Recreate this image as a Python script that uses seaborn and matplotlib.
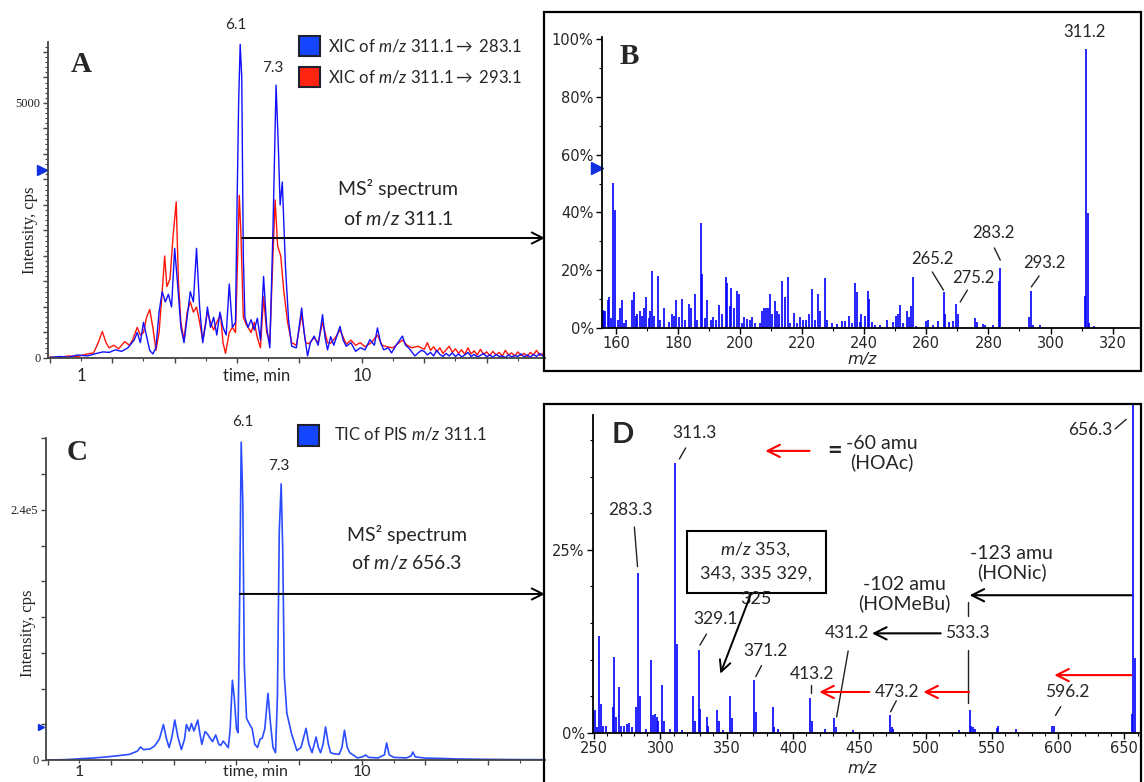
import matplotlib.pyplot as plt
import matplotlib.patches as mpatches
from matplotlib.ticker import MultipleLocator, NullFormatter, FuncFormatter
import seaborn as sns

# ---- data ----
# A: XIC traces (time in min, intensity in cps)
xic283_t = [0.0, 0.3, 0.6, 0.9, 1.2, 1.5, 1.7, 1.9, 2.1, 2.3, 2.5, 2.7, 2.8, 2.9,
            3.0, 3.1, 3.2, 3.3, 3.4, 3.5, 3.6, 3.7, 3.8, 3.9, 4.0, 4.1, 4.2, 4.3, 4.4, 4.5, 4.6, 4.7, 4.8, 4.9,
            5.0, 5.05, 5.15, 5.25, 5.35, 5.45, 5.55, 5.65, 5.75, 5.85, 5.95,
            6.0, 6.05, 6.1, 6.15, 6.2, 6.25, 6.35, 6.45, 6.55, 6.65, 6.75, 6.85, 6.95,
            7.05, 7.15, 7.25, 7.32, 7.38, 7.45, 7.55, 7.65, 7.75, 7.9,
            8.07, 8.15, 8.26, 8.35, 8.47, 8.6, 8.74, 8.82, 8.9,
            9.0, 9.1, 9.3, 9.4, 9.5, 9.65, 9.8, 9.95,
            10.1, 10.26, 10.4, 10.5, 10.6, 10.7, 10.85, 10.95,
            11.1, 11.3, 11.4, 11.5, 11.6, 11.7, 11.9,
            12.0, 12.1, 12.2, 12.3, 12.4, 12.5, 12.6, 12.7, 12.8, 12.9,
            13.0, 13.1, 13.2, 13.3, 13.4, 13.5, 13.6, 13.7, 13.8, 13.9,
            14.0, 14.1, 14.2, 14.3, 14.4, 14.5, 14.6, 14.7, 14.8, 14.9,
            15.0, 15.1, 15.2, 15.3, 15.4, 15.5, 15.6, 15.7, 15.8]
xic283_i = [10, 30, 15, 60, 40, 90, 120, 110, 160, 130, 200, 350, 500, 300,
            700, 420, 150, 80, 200, 900, 1300, 1100, 1250, 1000, 2150, 1400, 600, 300, 800, 1300, 1100, 2150, 1000, 300,
            700, 1000, 600, 800, 450, 900, 600, 450, 1450, 600, 700,
            3000, 5000, 6150, 5500, 2000, 800, 600, 750, 550, 780, 350, 1600, 600,
            200, 2500, 5350, 4200, 3000, 3450, 1800, 750, 230, 200,
            980, 500, 40, 300, 430, 250, 850, 400, 160,
            420, 250, 620, 350, 230, 300, 130, 200,
            160, 360, 250, 590, 300, 160, 200, 100,
            250, 430, 250, 200, 120, 40, 150,
            130, 60, 110, 40, 150, 70, 30, 90, 40, 100,
            30, 80, 20, 60, 110, 30, 70, 20, 50, 90,
            25, 60, 15, 70, 30, 40, 10, 60, 20, 50,
            30, 80, 20, 60, 15, 70, 30, 90, 40]

xic293_t = [0.0, 0.3, 0.6, 0.9, 1.2, 1.4, 1.55, 1.68, 1.8, 1.9,
            2.05, 2.2, 2.4, 2.55, 2.65, 2.8, 2.9,
            3.0, 3.1, 3.2, 3.3, 3.4, 3.5, 3.6, 3.68, 3.75, 3.85, 3.95,
            4.05, 4.12, 4.2, 4.3, 4.4, 4.5, 4.6, 4.7, 4.8, 4.9,
            5.05, 5.15, 5.25, 5.35, 5.47, 5.55, 5.63, 5.75, 5.85, 5.95,
            6.02, 6.07, 6.12, 6.2, 6.3, 6.45, 6.55, 6.65, 6.75, 6.85, 6.95,
            7.05, 7.15, 7.22, 7.3, 7.4, 7.5, 7.62, 7.75, 7.9,
            8.07, 8.2, 8.3, 8.47, 8.6, 8.74, 8.9,
            9.0, 9.15, 9.3, 9.5, 9.65, 9.8, 9.95,
            10.1, 10.3, 10.5, 10.65, 10.8,
            11.0, 11.15, 11.3, 11.45, 11.6, 11.8,
            12.0, 12.1, 12.2, 12.3, 12.4, 12.5, 12.6, 12.7, 12.8, 12.9,
            13.0, 13.1, 13.2, 13.3, 13.4, 13.5, 13.6, 13.7, 13.8, 13.9,
            14.0, 14.1, 14.2, 14.3, 14.4, 14.5, 14.6, 14.7, 14.8, 14.9,
            15.0, 15.1, 15.2, 15.3, 15.4, 15.5, 15.6, 15.7, 15.8]
xic293_i = [20, 10, 40, 30, 80, 100, 300, 520, 300, 200,
            250, 180, 320, 250, 350, 600, 450,
            500, 800, 950, 600, 150, 500, 1300, 2000, 1400, 1550, 2400,
            3060, 1500, 700, 350, 900, 1100, 900, 1000, 700, 350,
            900, 700, 550, 700, 850, 300, 90, 500, 600, 500,
            2000, 3190, 2500, 800, 650, 500, 700, 400, 200, 1200, 500,
            300, 2000, 3100, 2200, 2000, 1300, 700, 300, 250,
            850, 300, 280, 400, 300, 700, 300,
            290, 400, 550, 270, 350, 250, 300,
            220, 300, 450, 250, 220,
            200, 280, 350, 250, 200, 230,
            170, 300, 150, 220, 120, 200, 90, 160, 230, 110,
            180, 90, 160, 70, 200, 80, 140, 60, 170, 70,
            120, 50, 130, 60, 110, 40, 150, 60, 100, 40,
            120, 50, 90, 30, 110, 60, 150, 50, 90]

# C: TIC of precursor ion scan
tic_t = [-0.05, 0.5, 0.8, 1.2, 1.5, 1.85, 2.2, 2.6, 2.85, 2.95, 3.05, 3.25, 3.4, 3.55, 3.68, 3.78, 3.86, 3.95,
         4.04, 4.14, 4.25, 4.35, 4.41, 4.5, 4.57, 4.65, 4.77, 4.84, 4.9,
         5.0, 5.08, 5.15, 5.24, 5.34, 5.44, 5.5, 5.58, 5.66, 5.74, 5.8, 5.87, 5.93,
         6.0, 6.05, 6.1, 6.15, 6.2, 6.25, 6.32, 6.42, 6.5, 6.58, 6.67, 6.75, 6.82, 6.9,
         7.0, 7.08, 7.16, 7.24, 7.3, 7.36, 7.42, 7.47, 7.52, 7.6, 7.75, 7.92,
         8.05, 8.21, 8.3, 8.4, 8.53, 8.6, 8.67, 8.75, 8.83, 8.92, 8.99,
         9.1, 9.26, 9.35, 9.43, 9.52, 9.6, 9.84,
         10.0, 10.1, 10.2, 10.5, 10.7, 10.77, 10.85,
         11.0, 11.4, 11.55, 11.6, 11.68,
         12.0, 12.5, 13.0, 13.5, 14.0, 14.5, 15.0, 15.8]
tic_i = [0, 300, 700, 1500, 2000, 2900, 4000, 5400, 8500, 12500, 10000, 10500, 13500, 20000, 34000, 20000, 12000, 22000,
         38400, 22000, 10000, 20000, 34000, 27800, 35000, 27800, 38400, 25000, 15000,
         27200, 25000, 21400, 17600, 24000, 15000, 14000, 18200, 15000, 11800, 30000, 76500, 60000,
         30000, 26200, 150000, 305000, 250000, 90000, 40000, 34000, 30000, 15000, 12000, 20000, 21000, 30000,
         64000, 35000, 12000, 7000, 60000, 220000, 265000, 200000, 80000, 45000, 25000, 9000,
         12000, 30400, 15000, 7000, 22000, 12000, 7000, 15000, 31700, 15000, 7000,
         6000, 5400, 12000, 28500, 12000, 7000, 2000,
         3000, 4800, 2500, 2000, 5000, 16300, 5000,
         2500, 2000, 4000, 7700, 3000,
         1800, 1500, 1000, 800, 600, 500, 400, 300]

# B: MS2 spectrum of m/z 311.1 (m/z, relative intensity %)
ms311_mz = [155.2, 155.7, 156.2, 156.6, 157.3, 157.9, 158.4, 159.1, 159.6, 160.5, 161.3, 161.8, 162.5, 163.2,
            165.1, 165.7, 166.4, 166.9, 167.7, 168.3, 169.1, 169.6, 170.5, 171.0, 171.6, 172.3, 173.4, 174.1,
            175.5, 177.1, 178.0, 178.7, 179.5, 180.3, 181.4, 182.3, 183.5, 184.2, 185.5, 186.2, 187.3, 187.8,
            188.7, 189.4, 190.5, 191.2, 192.3, 193.2, 194.0, 195.3, 195.8, 196.6, 197.2, 198.0, 199.0, 199.6,
            200.6, 201.4, 202.2, 203.1, 203.9, 204.9, 206.5, 207.1, 207.6, 208.3, 209.0, 209.5, 210.3, 211.3,
            211.9, 212.6, 213.5, 214.5, 215.3, 216.1, 217.2, 218.3, 219.3, 220.4, 221.2, 222.2, 223.3, 224.2,
            225.2, 225.8, 227.2, 227.9, 229.5, 231.1, 232.7, 233.8, 235.1, 235.9, 237.0, 237.5, 238.6, 239.1,
            240.2, 241.1, 241.6, 242.4, 243.3, 245.2, 247.4, 249.2, 250.2, 250.8, 251.5, 252.4, 253.7, 254.3,
            255.1, 255.8, 256.7, 259.9, 260.6, 262.0, 263.6, 265.6, 266.1, 267.4, 268.5, 269.5, 270.1, 275.7,
            276.3, 278.4, 279.0, 281.5, 283.3, 283.8, 293.1, 293.8, 294.4, 296.7, 311.0, 311.5, 312.0, 312.4,
            314.0]
ms311_pct = [9.8, 6.3, 6.0, 5.8, 9.8, 10.7, 3.5, 50.2, 40.9, 2.9, 6.9, 9.6, 1.7, 2.7,
             9.6, 12.3, 4.0, 5.0, 5.8, 4.0, 6.9, 10.7, 3.5, 5.8, 19.8, 4.0, 18.1, 2.9,
             6.9, 2.0, 5.0, 4.0, 9.6, 3.8, 10.0, 2.9, 8.4, 6.9, 11.8, 2.9, 36.3, 18.7,
             3.5, 9.6, 2.9, 3.8, 2.9, 8.1, 5.0, 17.6, 15.6, 7.5, 13.8, 6.9, 12.9, 11.9,
             1.7, 3.8, 3.1, 2.9, 3.8, 1.7, 1.7, 5.8, 6.9, 6.9, 6.9, 11.8, 5.0, 9.2,
             5.8, 5.0, 16.1, 10.7, 17.6, 1.7, 5.2, 1.7, 3.8, 2.9, 2.9, 5.0, 13.5, 2.9,
             11.9, 5.8, 17.3, 2.9, 1.7, 1.5, 2.3, 2.3, 4.3, 1.7, 15.6, 12.3, 2.0, 5.0,
             4.0, 12.9, 10.0, 2.0, 1.0, 1.2, 2.7, 2.0, 4.0, 5.0, 8.1, 1.7, 5.8, 3.8,
             7.5, 17.6, 0.6, 2.3, 2.7, 1.2, 2.3, 12.3, 5.0, 2.0, 2.3, 8.4, 5.0, 3.5,
             2.0, 1.5, 1.2, 1.2, 16.1, 20.8, 3.8, 12.7, 1.2, 1.2, 11.2, 96.5, 39.8, 1.7,
             0.6]

# D: MS2 spectrum of m/z 656.3
ms656_mz = [249.4, 250.6, 251.9, 253.9, 255.1, 256.9, 258.9, 263.9, 265.2, 266.5, 268.7, 270.0, 272.5, 274.5,
            276.5, 278.3, 281.3, 283.3, 284.6, 288.8, 292.6, 294.1, 295.9, 297.1, 298.4, 301.4, 302.7, 307.2,
            311.3, 312.2, 316.0, 324.8, 326.1, 329.0, 329.8, 334.9, 336.1, 342.9, 344.4, 346.9, 352.5, 353.7,
            370.8, 371.8, 384.6, 385.7, 388.9, 404.0, 405.3, 413.0, 414.1, 424.1, 431.2, 432.4, 445.6, 467.0,
            473.2, 474.5, 475.7, 493.3, 509.7, 525.5, 533.2, 534.3, 536.1, 537.4, 553.7, 555.0, 568.0, 595.7,
            596.9, 613.5, 655.5, 656.3, 657.8]
ms656_pct = [3.3, 3.2, 0.8, 13.3, 3.9, 0.9, 0.9, 3.6, 10.4, 2.2, 6.3, 1.0, 1.0, 1.2,
             1.3, 0.8, 3.5, 21.8, 5.1, 0.6, 10.0, 2.4, 2.6, 2.2, 1.7, 6.5, 1.7, 0.6,
             36.8, 12.2, 0.4, 5.0, 1.7, 11.3, 3.3, 2.2, 1.0, 3.2, 1.6, 0.4, 5.0, 2.0,
             7.2, 2.9, 3.5, 0.8, 0.6, 0.2, 0.2, 4.8, 1.7, 0.5, 2.0, 0.8, 0.4, 0.2,
             2.4, 0.8, 0.5, 0.2, 0.2, 0.4, 3.2, 1.0, 0.8, 0.6, 0.7, 1.0, 0.5, 1.0,
             1.0, 0.2, 2.6, 100.0, 10.2]

# ---- style ----
sns.set_style("ticks")
plt.rcParams['font.family'] = ['Lato', 'DejaVu Sans']
plt.rcParams['mathtext.fontset'] = 'custom'
plt.rcParams['mathtext.rm'] = 'Lato'
plt.rcParams['mathtext.it'] = 'Lato:italic'

W, H = 1144, 782
fig = plt.figure(figsize=(W / 100, H / 100), dpi=100)


def rect(l, t, r, b):
    return [l / W, 1 - b / H, (r - l) / W, (b - t) / H]


def fp(x, y):
    return (x / W, 1 - y / H)


def ftext(x, y, s, **kw):
    kw.setdefault('ha', 'center')
    kw.setdefault('va', 'center')
    fig.text(x / W, 1 - y / H, s, **kw)


SERIF = 'Liberation Serif'


def chrom_style(ax, ystep, yminor, labels):
    sns.despine(ax=ax)
    for s in ['left', 'bottom']:
        ax.spines[s].set_color('#444444')
        ax.spines[s].set_linewidth(1.3)
    ax.xaxis.set_major_locator(MultipleLocator(2))
    ax.xaxis.set_minor_locator(MultipleLocator(1))
    ax.xaxis.set_major_formatter(NullFormatter())
    ax.yaxis.set_major_locator(MultipleLocator(ystep))
    if yminor:
        ax.yaxis.set_minor_locator(MultipleLocator(yminor))
    ax.yaxis.set_major_formatter(FuncFormatter(
        lambda v, p: next((lab for val, lab in labels if abs(v - val) < ystep * 0.1), '')))
    ax.tick_params(axis='both', which='major', length=3.5, width=1, color='#444444', direction='out')
    ax.tick_params(axis='both', which='minor', length=2, width=0.8, color='#444444', direction='out')
    ax.tick_params(axis='y', labelsize=9, pad=2, labelcolor='#222222')
    for lab in ax.get_yticklabels():
        lab.set_family(SERIF)
    ax.set_xlabel('')
    ax.set_ylabel('')


def spec_style(ax, xmaj, ymaj, yminor, ylabels):
    sns.despine(ax=ax)
    for s in ['left', 'bottom']:
        ax.spines[s].set_color('black')
        ax.spines[s].set_linewidth(1.3)
    ax.xaxis.set_major_locator(MultipleLocator(xmaj))
    ax.xaxis.set_minor_locator(MultipleLocator(10))
    ax.yaxis.set_major_locator(MultipleLocator(ymaj))
    ax.yaxis.set_minor_locator(MultipleLocator(yminor))
    ax.yaxis.set_major_formatter(FuncFormatter(
        lambda v, p: f'{v:g}%' if any(abs(v - y) < 0.01 for y in ylabels) else ''))
    ax.tick_params(axis='both', which='major', length=4, width=1, color='black', direction='out')
    ax.tick_params(axis='both', which='minor', length=2.2, width=0.8, color='black', direction='out')
    ax.tick_params(axis='both', labelsize=10.5, pad=2)
    for lab in ax.get_xticklabels() + ax.get_yticklabels():
        lab.set_family('DejaVu Sans')


# ================= A =================
axA = fig.add_axes(rect(48, 42, 545, 358))
sns.lineplot(x=xic293_t, y=xic293_i, ax=axA, color='#ff1408', lw=1.0, estimator=None, sort=False)
sns.lineplot(x=xic283_t, y=xic283_i, ax=axA, color='#1010ff', lw=1.0, estimator=None, sort=False)
axA.set_xlim(-0.06, 15.87)
axA.set_ylim(0, 6196)
chrom_style(axA, 500, 100, [(0, '0'), (5000, '5000')])
axA.plot([-0.012], [3686], marker='>', ms=7, color='#1030e0', transform=axA.get_yaxis_transform(), clip_on=False)
axA.text(5.97, 6529, '6.1', ha='center', va='center', fontsize=11)
axA.text(7.15, 5686, '7.3', ha='center', va='center', fontsize=11)
axA.annotate('', xy=fp(545, 238), xycoords='figure fraction', xytext=(6.16, 2353), textcoords='data',
             arrowprops=dict(arrowstyle='->', color='black', lw=1.4, shrinkA=0, shrinkB=0, mutation_scale=20))

ftext(81, 65, 'A', fontsize=21, fontweight='bold', family=SERIF)
ftext(30, 230, 'Intensity, cps', rotation=90, fontsize=12, family=SERIF, color='#222222')
ftext(81, 376, '1', fontsize=12)
ftext(257, 376, 'time, min', fontsize=12)
ftext(362, 376, '10', fontsize=12)
ftext(398, 189, 'MS² spectrum', fontsize=14)
ftext(398, 218, 'of $m/z$ 311.1', fontsize=14)
for y, c, s in [(46, '#1446ff', 'XIC of $m/z$ 311.1$\\rightarrow$ 283.1'),
                (77, '#ff2410', 'XIC of $m/z$ 311.1$\\rightarrow$ 293.1')]:
    fig.add_artist(mpatches.Rectangle(fp(299, y + 10), 21 / W, 20 / H, transform=fig.transFigure,
                                      fc=c, ec='#202030', lw=1.5))
    ftext(328, y, s, ha='left', fontsize=12)

# ================= B =================
axB = fig.add_axes(rect(602, 37, 1139, 328))
axB.vlines(ms311_mz, 0, ms311_pct, color='#0000ff', lw=1.2)
axB.set_xlim(155.5, 328.5)
axB.set_ylim(0, 100.7)
spec_style(axB, 20, 20, 10, [0, 20, 40, 60, 80, 100])
axB.set_xlabel('')
axB.plot([-0.01], [55.4], marker='>', ms=9, color='#1030e0', transform=axB.get_yaxis_transform(), clip_on=False)
fig.add_artist(mpatches.Rectangle(fp(544, 371), (1141 - 544) / W, (371 - 12) / H, transform=fig.transFigure,
                                  fill=False, ec='black', lw=1.6))
ftext(862, 360, 'm/z', fontsize=11.5, style='italic', family='DejaVu Sans')
ftext(629, 57, 'B', fontsize=21, fontweight='bold', family=SERIF)

b_labels = [('311.2', 310.8, 102.4, None),
            ('283.2', 281.5, 32.9, ((281.9, 27.7), (283.8, 23.5))),
            ('265.2', 261.9, 23.9, ((261.9, 19.4), (265.5, 13.1))),
            ('275.2', 275.1, 17.3, ((273.2, 13.1), (270.9, 9.0))),
            ('293.2', 297.9, 22.5, ((296.3, 18.0), (293.8, 14.2)))]
for s, x, y, ln in b_labels:
    axB.text(x, y, s, ha='center', va='center', fontsize=12, clip_on=False)
    if ln:
        axB.plot([ln[0][0], ln[1][0]], [ln[0][1], ln[1][1]], color='#222222', lw=1)

# ================= C =================
axC = fig.add_axes(rect(46, 438, 545, 760))
sns.lineplot(x=tic_t, y=tic_i, ax=axC, color='#2a4dff', lw=1.2, estimator=None, sort=False)
axC.set_xlim(-0.05, 15.8)
axC.set_ylim(0, 309000)
chrom_style(axC, 2.4e5 / 7, None, [(0, '0'), (2.4e5, '2.4e5')])
axC.plot([-0.01], [31680], marker='>', ms=4, color='#1030e0', transform=axC.get_yaxis_transform(), clip_on=False)
axC.text(6.21, 324480, '6.1', ha='center', va='center', fontsize=11)
axC.text(7.35, 282240, '7.3', ha='center', va='center', fontsize=11)
axC.annotate('', xy=fp(545, 594), xycoords='figure fraction', xytext=(6.11, 159360), textcoords='data',
             arrowprops=dict(arrowstyle='->', color='black', lw=1.4, shrinkA=0, shrinkB=0, mutation_scale=20))

ftext(77, 453, 'C', fontsize=21, fontweight='bold', family=SERIF)
ftext(28, 633, 'Intensity, cps', rotation=90, fontsize=12, family=SERIF, color='#222222')
ftext(79, 772, '1', fontsize=11.5)
ftext(255, 772, 'time, min', fontsize=11.5)
ftext(362, 772, '10', fontsize=11.5)
ftext(407, 534, 'MS² spectrum', fontsize=14)
ftext(407, 563, 'of $m/z$ 656.3', fontsize=14)
fig.add_artist(mpatches.Rectangle(fp(298, 446), 21 / W, 21 / H, transform=fig.transFigure,
                                  fc='#1446ff', ec='#202030', lw=1.5))
ftext(334, 434, 'TIC of PIS $m/z$ 311.1', ha='left', fontsize=12)

# ================= D =================
axD = fig.add_axes(rect(593, 404, 1139, 733))
axD.vlines(ms656_mz, 0, ms656_pct, color='#0000ff', lw=1.2)
axD.set_xlim(249.1, 661)
axD.set_ylim(0, 44.9)
spec_style(axD, 50, 25, 5, [0, 25])
axD.spines['left'].set_bounds(0, 43.4)
axD.set_xlabel('')
fig.add_artist(mpatches.Rectangle(fp(544, 795), (1141 - 544) / W, (795 - 404) / H, transform=fig.transFigure,
                                  fill=False, ec='black', lw=1.6))
ftext(862, 769, 'm/z', fontsize=11.5, style='italic', family='DejaVu Sans')
ftext(623, 435, 'D', fontsize=21, fontweight='bold')

d_labels = [('311.3', 325.3, 40.9, ((319.0, 38.9), (314.3, 37.4))),
            ('283.3', 277.4, 30.4, ((280.3, 28.1), (282.7, 22.7))),
            ('329.1', 341.4, 15.5, ((334.7, 13.5), (329.8, 12.0))),
            ('371.2', 379.1, 11.2, ((376.2, 9.2), (371.9, 7.7))),
            ('413.2', 414.0, 8.1, ((413.4, 6.5), (413.4, 5.4))),
            ('431.2', 440.7, 13.7, ((441.6, 11.2), (432.9, 2.2))),
            ('533.3', 531.7, 13.7, ((532.3, 11.3), (532.3, 4.1))),
            ('473.2', 478.5, 5.6, ((477.9, 4.4), (473.6, 2.9))),
            ('596.2', 606.7, 5.6, ((602.0, 3.6), (598.0, 2.4)))]
for s, x, y, ln in d_labels:
    axD.text(x, y, s, ha='center', va='center', fontsize=12.5, clip_on=False)
    axD.plot([ln[0][0], ln[1][0]], [ln[0][1], ln[1][1]], color='#222222', lw=1)
axD.text(640.7, 41.4, '656.3', ha='right', va='center', fontsize=12.5)
axD.plot([643.0, 651.3], [41.5, 42.8], color='#222222', lw=1)
axD.plot([532.3, 532.3], [17.9, 15.9], color='#222222', lw=1)


def d_arrow(x0, x1, y, c):
    axD.annotate('', xy=(x1, y), xytext=(x0, y),
                 arrowprops=dict(arrowstyle='->', color=c, lw=1.5, shrinkA=0, shrinkB=0, mutation_scale=22))


d_arrow(532.8, 498.3, 5.6, 'red')
d_arrow(457.6, 419.8, 5.6, 'red')
d_arrow(655.2, 597.1, 7.9, 'red')
d_arrow(511.4, 459.6, 13.6, 'black')
d_arrow(655.2, 533.2, 18.8, 'black')
d_arrow(412.5, 379.1, 38.5, 'red')

axD.text(431.5, 38.6, '=', ha='center', va='center', fontsize=18, fontweight='bold')
axD.text(467.1, 38.2, '-60 amu\n(HOAc)', ha='center', va='center', fontsize=14, linespacing=1.1)
axD.text(565.1, 23.2, '-123 amu\n(HONic)', ha='center', va='center', fontsize=14, linespacing=1.1)
axD.text(483.7, 19.0, '-102 amu\n(HOMeBu)', ha='center', va='center', fontsize=14, linespacing=1.1)

axD.add_patch(mpatches.Rectangle((320.2, 19.1), 104.6, 8.5, fill=False, ec='black', lw=1.5, clip_on=False))
axD.text(371.9, 25.0, '$m/z$ 353,', ha='center', va='center', fontsize=13)
axD.text(371.9, 21.8, '343, 335 329,', ha='center', va='center', fontsize=13)
axD.text(371.9, 18.3, '325', ha='center', va='center', fontsize=13)
axD.annotate('', xy=(345.2, 8.1), xytext=(368.3, 19.0),
             arrowprops=dict(arrowstyle='->', color='black', lw=1.4, shrinkA=0, shrinkB=0, mutation_scale=20))

fig.savefig('out.png', dpi=100)
